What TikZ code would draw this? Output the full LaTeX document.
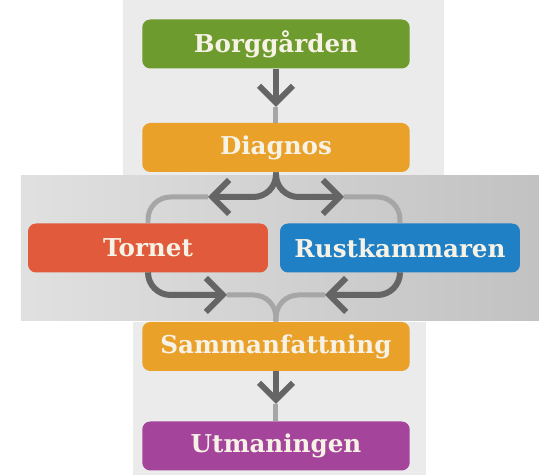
\documentclass[tikz,border=0pt]{standalone}
\usepackage{fontspec}
\setmainfont{DejaVu Serif}
\usetikzlibrary{arrows.meta}

\definecolor{borgcol}{HTML}{6E9B2D}
\definecolor{diagcol}{HTML}{E9A12A}
\definecolor{torncol}{HTML}{E05A3B}
\definecolor{rustcol}{HTML}{1F80C5}
\definecolor{utmcol}{HTML}{A4449A}
\definecolor{txtcol}{HTML}{F7F2E6}
\definecolor{darkgr}{HTML}{656565}
\definecolor{lightgr}{HTML}{A6A6A6}

\begin{document}
\begin{tikzpicture}[x=0.02cm, y=-0.02cm,
    box/.style={rounded corners=0.16cm, minimum height=0.98cm, text=txtcol,
        inner sep=0pt, font=\fontsize{14}{16}\selectfont\bfseries},
    wide/.style={box, minimum width=5.35cm},
    half/.style={box, minimum width=4.8cm},
    shaft/.style={draw=darkgr, line width=0.12cm,
        -{Straight Barb[length=0.34cm, width=0.68cm]}},
    trail/.style={draw=lightgr, line width=0.1cm}]

    %%%%% BACKGROUND %%%%%
    \useasboundingbox (0,0) rectangle (539,475);
    \fill[white] (0,0) rectangle (539,475);
    \fill[black!8] (123,0) rectangle (444,175);
    \shade[left color=black!12, right color=black!24] (21,176) rectangle (539,321);
    \fill[black!8] (133,322) rectangle (426,475);

    %%%%% BOXES %%%%%
    \node[wide, fill=borgcol] (bor) at (276,44) {Borggården};
    \node[wide, fill=diagcol] (dia) at (276,147.5) {Diagnos};
    \node[half, fill=torncol] (tor) at (148,248) {Tornet};
    \node[half, fill=rustcol] (rus) at (400,248) {Rustkammaren};
    \node[wide, fill=diagcol] (sam) at (276,346.5) {Sammanfattning};
    \node[wide, fill=utmcol] (utm) at (276,446) {Utmaningen};

    %%%%% ARROW TIPS %%%%%
    \coordinate (tipA) at (276,107);
    \coordinate (topL) at (208,197);
    \coordinate (topR) at (344,197);
    \coordinate (botL) at (227,295);
    \coordinate (botR) at (325,295);
    \coordinate (tipB) at (276,404);

    %%%%% CONNECTORS %%%%%
    \draw[trail] (tipA) -- (dia);
    \draw[shaft] (bor) -- (tipA);

    \draw[trail, rounded corners=0.45cm] (topL) -| (tor.north);
    \draw[trail, rounded corners=0.45cm] (topR) -| (rus.north);
    \draw[shaft, rounded corners=0.45cm] (dia.south) |- (topL);
    \draw[shaft, rounded corners=0.45cm] (dia.south) |- (topR);

    \draw[trail, rounded corners=0.45cm] (botL) -| (sam.north);
    \draw[trail, rounded corners=0.45cm] (botR) -| (sam.north);
    \draw[shaft, rounded corners=0.45cm] (tor.south) |- (botL);
    \draw[shaft, rounded corners=0.45cm] (rus.south) |- (botR);

    \draw[trail] (tipB) -- (utm);
    \draw[shaft] (sam) -- (tipB);

\end{tikzpicture}
\end{document}
